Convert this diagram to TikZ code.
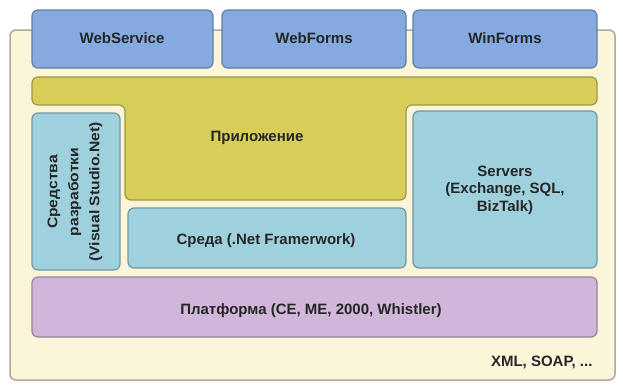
\documentclass[tikz,border=0pt]{standalone}
\usepackage{fontspec}
\setmainfont{Liberation Sans}
\newfontfamily\tallfont[FakeStretch=1.12]{Liberation Sans}
\begin{document}
\begin{tikzpicture}[x=1pt,y=-1pt,
  every node/.style={font=\bfseries\fontsize{15}{17.5}\selectfont, text=black!85, align=center},
  boxbase/.style={rounded corners=6pt, line width=1.2pt},
  bluebox/.style={boxbase, fill=blueF, draw=blueD},
  yellowbox/.style={boxbase, fill=yelF, draw=yelD},
  cyanbox/.style={boxbase, fill=cyanF, draw=cyanD},
  purplebox/.style={boxbase, fill=purF, draw=purD}]
\definecolor{blueF}{RGB}{132,170,224}
\definecolor{blueD}{RGB}{100,125,160}
\definecolor{yelF}{RGB}{214,206,88}
\definecolor{yelD}{RGB}{160,150,70}
\definecolor{cyanF}{RGB}{158,208,222}
\definecolor{cyanD}{RGB}{115,150,160}
\definecolor{purF}{RGB}{208,182,216}
\definecolor{purD}{RGB}{150,130,155}
\definecolor{creamF}{RGB}{251,246,218}
\definecolor{creamD}{RGB}{175,170,150}
\useasboundingbox (0,0) rectangle (623,384);
\fill[white] (0,0) rectangle (623,384);
% background panel
\draw[rounded corners=6pt, fill=creamF, draw=creamD, line width=1.5pt] (10,30) rectangle (615,380);
% top boxes
\draw[bluebox] (32,10) rectangle (213,68);
\draw[bluebox] (222,10) rectangle (406,68);
\draw[bluebox] (413,10) rectangle (597,68);
\node (ws) at (122,38) {WebService};
\node (wf) at (314,38) {WebForms};
\node (wn) at (505,38) {WinForms};
% application shape
\draw[yellowbox] (32,77) -- (597,77) -- (597,105) -- (406,105) -- (406,200) -- (125,200) -- (125,105) -- (32,105) -- cycle;
\node (app) at (257,138) {Приложение};
% tools
\draw[cyanbox] (32,113) rectangle (120,270);
\node[rotate=90, font=\tallfont\bfseries\fontsize{14}{21}\selectfont] (tools) at (75,192) {Средства\\разработки\\(Visual Studio.Net)};
% servers
\draw[cyanbox] (413,111) rectangle (597,268);
\node (srv) at (505,190) {Servers\\(Exchange, SQL,\\BizTalk)};
% framework
\draw[cyanbox] (128,208) rectangle (406,268);
\node (fw) at (266,241) {Среда (.Net Framerwork)};
% platform
\draw[purplebox] (32,277) rectangle (597,337);
\node (pl) at (311,311) {Платформа (CE, ME, 2000, Whistler)};
% footer
\node[anchor=east] (xml) at (596,362) {XML, SOAP, ...};
\end{tikzpicture}
\end{document}
